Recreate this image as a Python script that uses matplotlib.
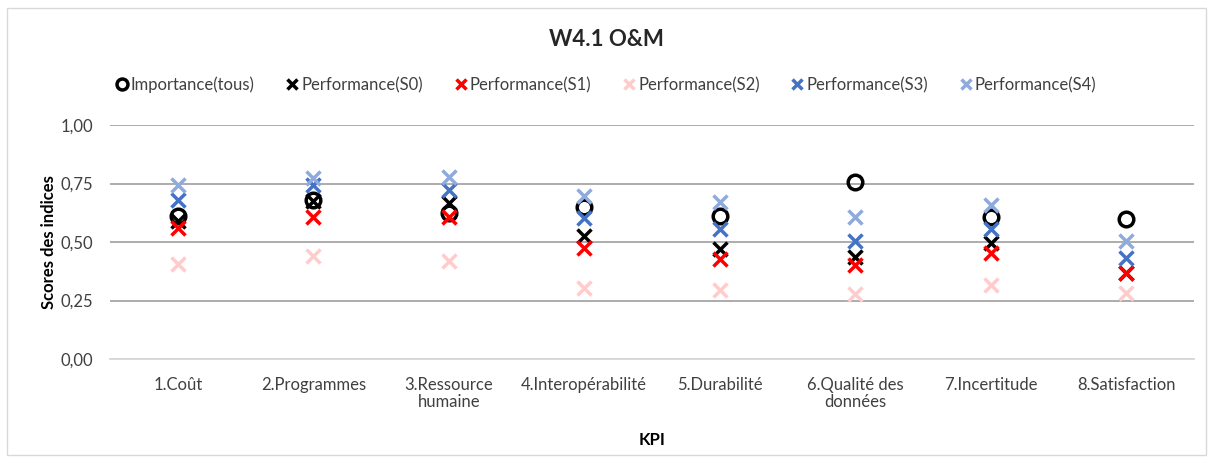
import numpy as np
import matplotlib.pyplot as plt

plt.rcParams['font.family'] = ['Lato', 'DejaVu Sans']

categories = ['1.Coût', '2.Programmes', '3.Ressource\nhumaine', '4.Interopérabilité',
              '5.Durabilité', '6.Qualité des\ndonnées', '7.Incertitude', '8.Satisfaction']

importance = [0.61, 0.68, 0.625, 0.65, 0.61, 0.758, 0.605, 0.60]
perf_s0 = [0.59, 0.675, 0.668, 0.526, 0.469, 0.434, 0.494, 0.369]
perf_s1 = [0.558, 0.608, 0.605, 0.473, 0.426, 0.402, 0.452, 0.366]
perf_s2 = [0.406, 0.441, 0.42, 0.302, 0.295, 0.278, 0.316, 0.281]
perf_s3 = [0.68, 0.745, 0.722, 0.601, 0.556, 0.506, 0.556, 0.43]
perf_s4 = [0.744, 0.772, 0.776, 0.697, 0.672, 0.608, 0.658, 0.504]

fig = plt.figure(figsize=(12.13, 4.63), dpi=100)
ax = fig.add_axes([110/1213, 1 - 359/463, (1194 - 110)/1213, (359 - 125)/463])

x = np.arange(len(categories))
ax.plot(x, importance, 'o', ms=10.5, mfc='none', mec='black', mew=2.5,
        label='Importance(tous)', zorder=3)
series = [(perf_s0, 'black', 'Performance(S0)'),
          (perf_s1, '#FF0000', 'Performance(S1)'),
          (perf_s2, '#FFCCCC', 'Performance(S2)'),
          (perf_s3, '#4472C4', 'Performance(S3)'),
          (perf_s4, '#8FAADC', 'Performance(S4)')]
for vals, col, lab in series:
    ax.plot(x, vals, 'x', ms=10.5, mec=col, mew=2.5, label=lab, zorder=3)

ax.set_xlim(-0.5, len(categories) - 0.5)
ax.set_ylim(0, 1.0)
ax.set_yticks([0, 0.25, 0.5, 0.75, 1.0])
ax.set_yticklabels(['0,00', '0,25', '0,50', '0,75', '1,00'], fontsize=12, color='#404040')
ax.set_xticks(x)
ax.set_xticklabels(categories, fontsize=12, color='#404040', linespacing=1.05)
ax.tick_params(axis='x', length=0, pad=13)
ax.tick_params(axis='y', length=0, pad=12)
ax.grid(axis='y', color='#A6A6A6', lw=1.3)
ax.set_axisbelow(True)
for s in ['top', 'right', 'left']:
    ax.spines[s].set_visible(False)
ax.spines['bottom'].set_color('#D9D9D9')
ax.spines['bottom'].set_linewidth(1.3)

ax.set_ylabel('Scores des indices', fontsize=12, fontweight='bold', labelpad=3)
ax.set_xlabel('KPI', fontsize=12, fontweight='bold', labelpad=16)

fig.text(0.5, 1 - 40/463, 'W4.1 O&M', ha='center', va='center', fontsize=16, fontweight='bold', color='#262626')

leg = ax.legend(loc='center left', bbox_to_anchor=(106/1213, 1 - 85/463), bbox_transform=fig.transFigure,
                ncol=6, frameon=False, fontsize=12, handletextpad=0.0, columnspacing=1.7,
                handlelength=1.1, markerscale=0.75, borderaxespad=0)
for t in leg.get_texts():
    t.set_color('#404040')

fig.patches.append(plt.Rectangle((7/1213, 1 - 455/463), 1199/1213, 447/463, transform=fig.transFigure,
                                 fill=False, ec='#D9D9D9', lw=1))

fig.savefig('out.png', dpi=100)
